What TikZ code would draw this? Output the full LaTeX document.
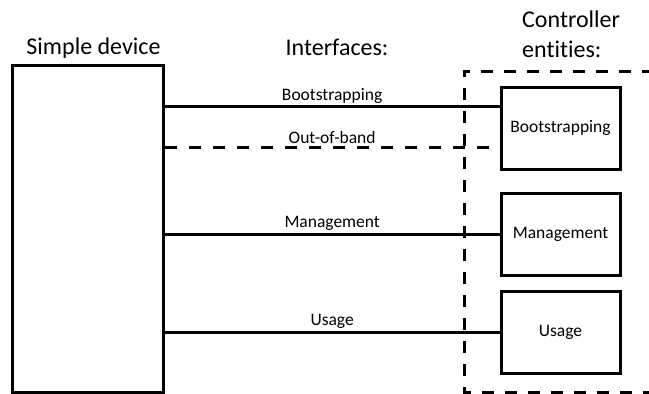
\documentclass[tikz,border=0pt]{standalone}
\usepackage{fontspec}
\setmainfont{Carlito}[Ligatures=NoCommon]
\begin{document}
\begin{tikzpicture}[x=1pt,y=-1pt,
  box/.style={draw, line width=3pt, inner sep=0pt},
  title/.style={font=\fontsize{24}{30}\selectfont, inner sep=0pt},
  lbl/.style={font=\fontsize{17.5}{20}\selectfont, inner sep=0pt},
  link/.style={line width=3pt},
  dashlink/.style={line width=3pt, dash pattern=on 12pt off 12pt},
  group/.style={line width=3pt, dash pattern=on 12pt off 11pt}]
  \useasboundingbox (0,0) rectangle (649,394);
  \clip (0,0) rectangle (649,394);

  % headings
  \node[title] (hdev) at (93.5,48) {Simple device};
  \node[title] (hif) at (337,47) {Interfaces:};
  \node[title, align=left, anchor=north west] (hctl) at (522,11) {Controller\\entities:};

  % the device
  \node[box, minimum width=151, minimum height=327] (dev) at (87.8,228.5) {};

  % controller group (open to the right)
  \draw[group] (700,71) -- (464,71) -- (464,392) -- (700,392);

  % controller entities
  \node[box, lbl, minimum width=119, minimum height=81.5] (boot) at (560.5,128.3) {Bootstrapping};
  \node[box, lbl, minimum width=119, minimum height=82] (mgmt) at (560.5,234) {Management};
  \node[box, lbl, minimum width=119, minimum height=82] (use) at (560.5,332) {Usage};

  % attachment points on the bootstrapping entity
  \coordinate (bootin) at (boot.west |- 0,106.5);
  \coordinate (oobin) at (boot.west |- 0,147);

  % interfaces
  \draw[link] (dev.east |- bootin) -- node[lbl, midway, above=1.5pt] (lboot) {Bootstrapping} (bootin);
  \draw[dashlink] (dev.east |- oobin) -- node[lbl, midway, above=1.5pt] (loob) {Out-of-band} (oobin);
  \draw[link] (dev.east |- mgmt.west) -- node[lbl, midway, above=1.5pt] (lmgmt) {Management} (mgmt.west);
  \draw[link] (dev.east |- use.west) -- node[lbl, midway, above=1.5pt] (luse) {Usage} (use.west);
\end{tikzpicture}
\end{document}
